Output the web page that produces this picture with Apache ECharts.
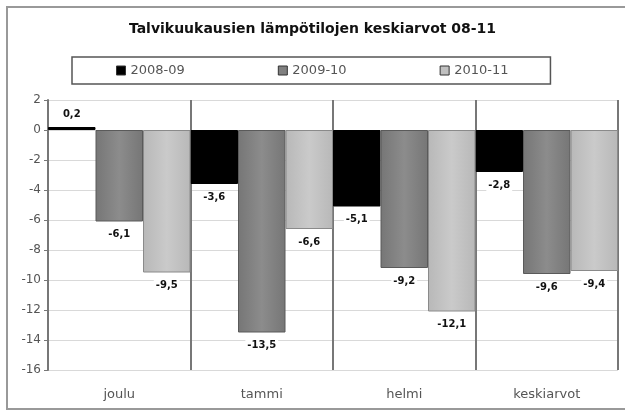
<!DOCTYPE html>
<html>
<head>
<meta charset="utf-8">
<script src="https://cdn.jsdelivr.net/npm/echarts@6/dist/echarts.min.js"></script>
<style>html,body{margin:0;padding:0;background:#fff;}#c{width:625px;height:412px;}</style>
</head>
<body>
<div id="c"></div>
<script>
var titleText = 'Talvikuukausien lämpötilojen keskiarvot 08-11';
var categories = ['joulu', 'tammi', 'helmi', 'keskiarvot'];
var seriesNames = ['2008-09', '2009-10', '2010-11'];
var values0809 = [0.2, -3.6, -5.1, -2.8];
var values0910 = [-6.1, -13.5, -9.2, -9.6];
var values1011 = [-9.5, -6.6, -12.1, -9.4];
var yMin = -16, yMax = 2, yStep = 2;

var FONT = '"DejaVu Sans", sans-serif';
function grad(c1, c2) {
  return new echarts.graphic.LinearGradient(0, 0, 1, 0, [
    {offset: 0, color: c1}, {offset: 0.5, color: c2}, {offset: 1, color: c1}
  ]);
}
var fills = ['#000000', grad('#767676', '#8c8c8c'), grad('#b8b8b8', '#cacaca')];
var legendFills = ['#000000', '#808080', '#c0c0c0'];
var borders = ['#000000', '#5a5a5a', '#8a8a8a'];
var data = [values0809, values0910, values1011];

var chart = echarts.init(document.getElementById('c'), null, {renderer: 'canvas'});
var series = seriesNames.map(function (name, i) {
  return {
    name: name,
    type: 'bar',
    data: data[i].map(function (v) {
      return {
        value: v,
        label: {position: v >= 0 ? 'top' : 'bottom'}
      };
    }),
    barGap: '0%',
    barCategoryGap: '0%',
    itemStyle: {color: fills[i], borderColor: borders[i], borderWidth: 1},
    label: {
      show: true,
      distance: 7,
      fontFamily: FONT,
      fontWeight: 'bold',
      fontSize: 10,
      color: '#111',
      backgroundColor: '#fff',
      padding: [1, 2],
      formatter: function (p) { return String(p.value).replace('.', ','); }
    },
    emphasis: {disabled: true}
  };
});

chart.setOption({
  animation: false,
  backgroundColor: '#fff',
  title: {
    text: titleText,
    left: 'center',
    top: 17,
    textStyle: {fontFamily: FONT, fontWeight: 'bold', fontSize: 14, color: '#111'}
  },
  legend: {
    data: seriesNames.map(function (n, i) {
      return {name: n, itemStyle: {color: legendFills[i], borderColor: '#333', borderWidth: 1}};
    }),
    left: 72,
    top: 57,
    icon: 'rect',
    itemWidth: 9,
    itemHeight: 9,
    itemGap: 93,
    padding: [7, 42, 7, 44],
    borderColor: '#555',
    borderWidth: 1.5,
    textStyle: {fontFamily: FONT, fontSize: 13, color: '#555'}
  },
  grid: {left: 48, right: 7, top: 100, bottom: 42},
  xAxis: {
    type: 'category',
    data: categories,
    axisLine: {show: false},
    axisTick: {show: false},
    axisLabel: {fontFamily: FONT, fontSize: 13, color: '#555', margin: 18},
    splitLine: {show: true, lineStyle: {color: '#777', width: 2}}
  },
  yAxis: {
    type: 'value',
    min: yMin,
    max: yMax,
    interval: yStep,
    axisLine: {show: true, lineStyle: {color: '#777', width: 2}},
    axisTick: {show: true, length: 4, lineStyle: {color: '#777'}},
    axisLabel: {fontFamily: FONT, fontSize: 12, color: '#555', margin: 7},
    splitLine: {show: true, lineStyle: {color: '#d9d9d9', width: 1}}
  },
  graphic: [{
    type: 'rect',
    shape: {x: 7, y: 7, width: 640, height: 402},
    style: {fill: 'none', stroke: '#999', lineWidth: 2},
    silent: true,
    z: 100
  }],
  series: series
});
</script>
</body>
</html>
